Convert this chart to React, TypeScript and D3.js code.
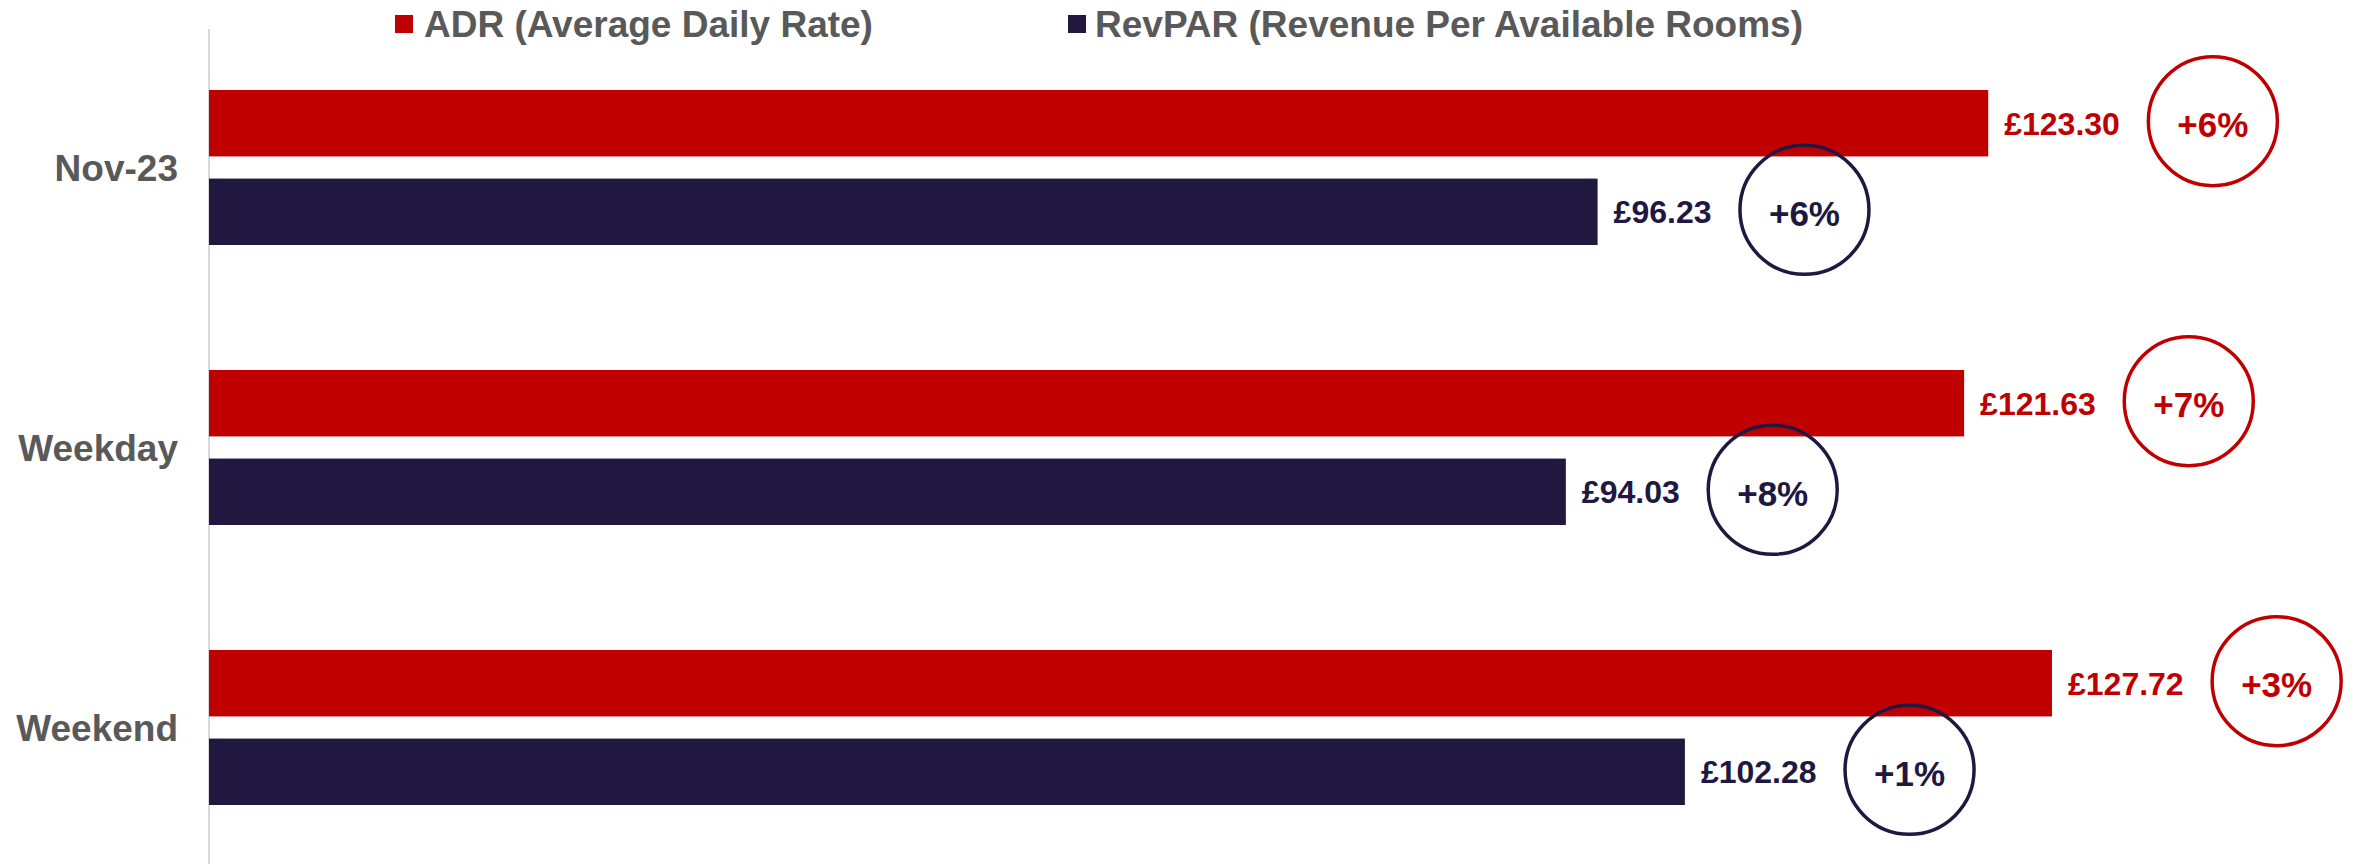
import React from "react";
import * as d3 from "d3";

const categories = ["Nov-23", "Weekday", "Weekend"];
const seriesNames = ["ADR (Average Daily Rate)", "RevPAR (Revenue Per Available Rooms)"];
const adrValues = [123.3, 121.63, 127.72];
const revparValues = [96.23, 94.03, 102.28];
const adrChange = ["+6%", "+7%", "+3%"];
const revparChange = ["+6%", "+8%", "+1%"];

const colors = ["#C00000", "#201840"];
const FONT = "Arial, 'Liberation Sans', sans-serif";

const W = 2359;
const H = 864;

export default function App() {
  const x = d3.scaleLinear().domain([0, 140]).range([209, 209 + 140 * 14.43]);
  const y0 = d3.scaleBand<string>().domain(categories).range([27.5, 867.5]);
  const y1 = d3.scaleBand<number>().domain([0, 1]).range([62.5, 217.5]).paddingInner(0.25);

  const series = [
    { values: adrValues, changes: adrChange },
    { values: revparValues, changes: revparChange },
  ];

  const labelSize = 32;
  // rough bold-Arial width of labels like "£123.30"
  const labelWidth = (s: string) => labelSize * (0.556 * (s.length - 1) + 0.278);

  return (
    <svg width={W} height={H} style={{ position: "absolute", left: 0, top: 0, background: "#fff" }}>
      {/* legend */}
      <g fontFamily={FONT} fontWeight="bold" fontSize={37} fill="#595959">
        <rect x={395} y={15} width={18} height={18} fill={colors[0]} />
        <text x={424} y={37}>{seriesNames[0]}</text>
        <rect x={1068} y={15} width={18} height={18} fill={colors[1]} />
        <text x={1095} y={37}>{seriesNames[1]}</text>
      </g>

      <line x1={x(0)} x2={x(0)} y1={29} y2={H} stroke="#D9D9D9" strokeWidth={2} />

      {categories.map((c, i) => {
        const band = y0(c)!;
        return (
          <g key={c}>
            <text
              x={178}
              y={band + y0.bandwidth() / 2 + 13}
              textAnchor="end"
              fontFamily={FONT}
              fontWeight="bold"
              fontSize={37}
              fill="#595959"
            >
              {c}
            </text>
            {series.map((s, j) => {
              const v = s.values[i];
              const top = band + y1(j)!;
              const cy = top + y1.bandwidth() / 2;
              const xe = x(v);
              const label = "£" + v.toFixed(2);
              const lx = xe + 16;
              const cx = lx + labelWidth(label) + 27 + 66;
              return (
                <g key={j}>
                  <rect x={x(0)} y={top} width={xe - x(0)} height={y1.bandwidth()} fill={colors[j]} />
                  <text
                    x={lx}
                    y={cy + 11.5}
                    fontFamily={FONT}
                    fontWeight="bold"
                    fontSize={labelSize}
                    fill={colors[j]}
                  >
                    {label}
                  </text>
                  <circle cx={cx} cy={cy - 2} r={64.5} fill="none" stroke={colors[j]} strokeWidth={3.5} />
                  <text
                    x={cx}
                    y={cy + 14}
                    textAnchor="middle"
                    fontFamily={FONT}
                    fontWeight="bold"
                    fontSize={35}
                    fill={colors[j]}
                  >
                    {s.changes[i]}
                  </text>
                </g>
              );
            })}
          </g>
        );
      })}
    </svg>
  );
}
